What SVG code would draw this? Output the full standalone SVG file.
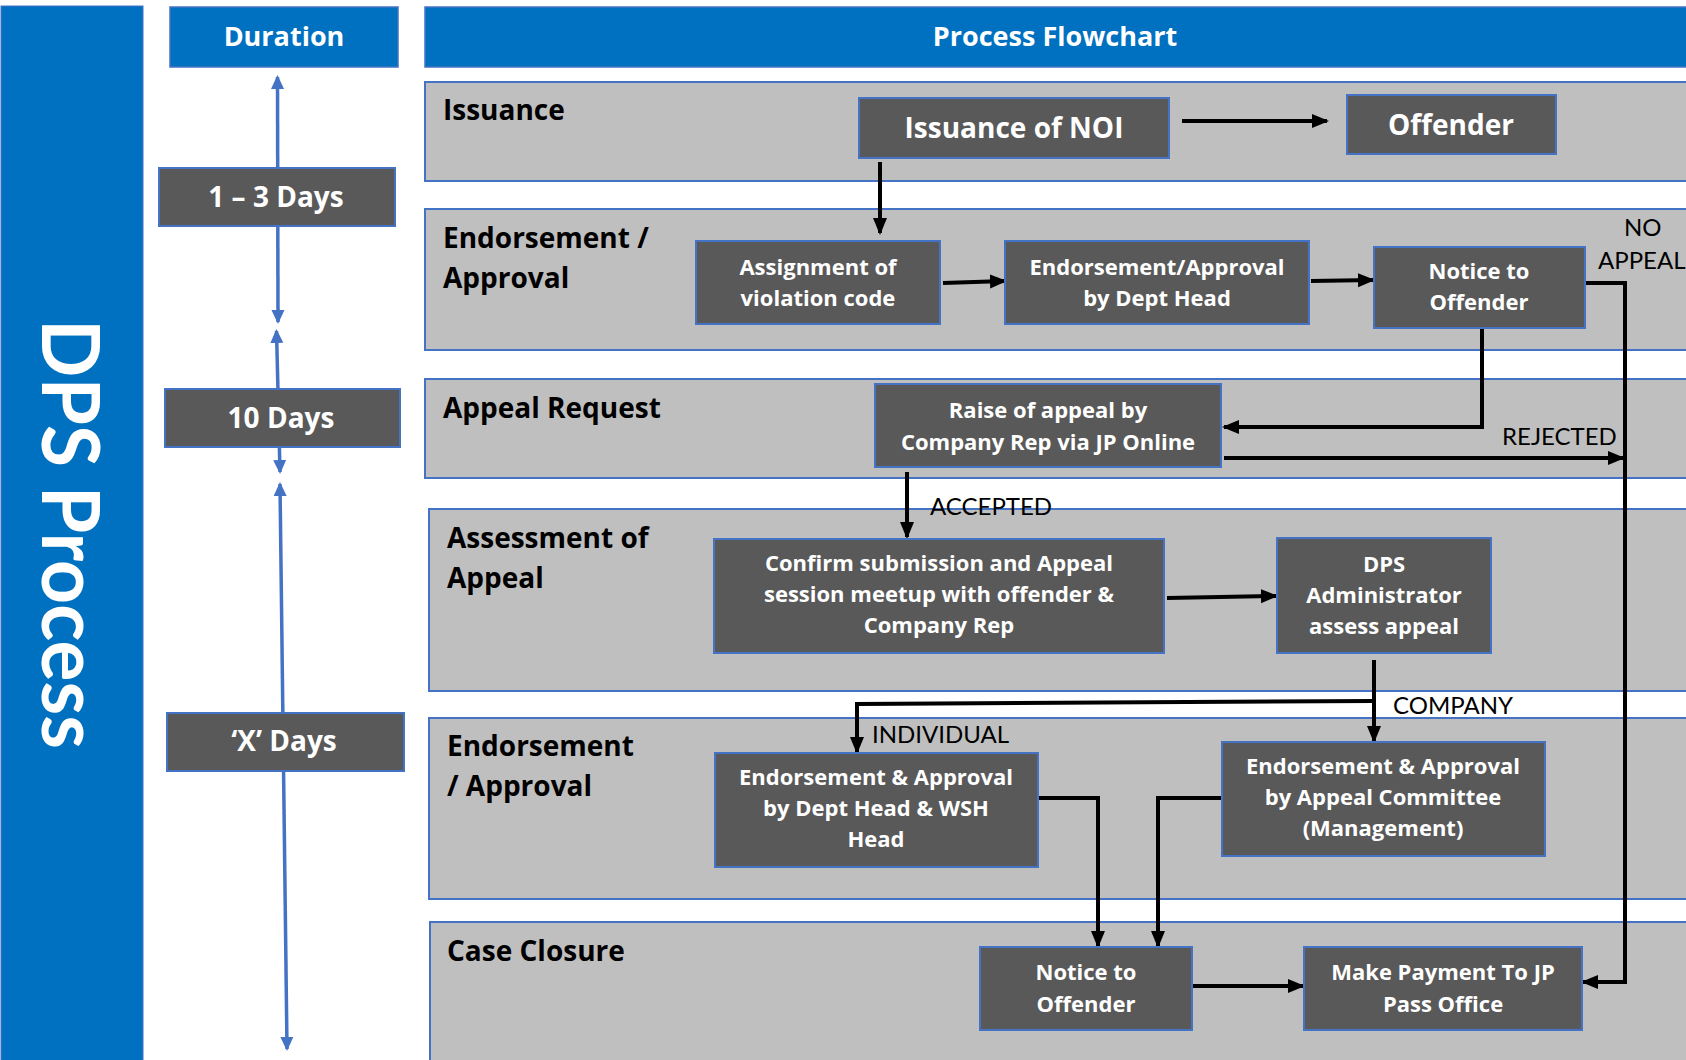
<svg xmlns="http://www.w3.org/2000/svg" width="1686" height="1060" viewBox="0 0 1686 1060">
<defs>
<style>
.lane{fill:#BFBFBF;stroke:#4472C4;stroke-width:2}
.node{fill:#595959;stroke:#4472C4;stroke-width:2}
.hdr{fill:#0070C0;stroke:#4472C4;stroke-width:1.5}
.nt{font-family:"Open Sans",Lato,sans-serif;font-weight:bold;fill:#FFFFFF;font-size:22px;text-anchor:middle}
.big{font-size:28px}
.ht{font-family:"Open Sans",Lato,sans-serif;font-weight:bold;fill:#FFFFFF;font-size:27px;text-anchor:middle}
.dt{font-family:"Open Sans",Lato,sans-serif;font-weight:bold;fill:#FFFFFF;font-size:28px;text-anchor:middle}
.lt{font-family:"Open Sans",Lato,sans-serif;font-weight:bold;fill:#000000;font-size:28px}
.cl{font-family:Lato,"Open Sans",sans-serif;fill:#000000;font-size:24px}
.conn{stroke:#000000;stroke-width:4;fill:none;marker-end:url(#ah)}
.dur{stroke:#4472C4;stroke-width:3.5;fill:none;marker-start:url(#bh);marker-end:url(#bh)}
</style>
<marker id="ah" markerUnits="userSpaceOnUse" markerWidth="17" markerHeight="16" viewBox="0 0 17 16" refX="15" refY="8" orient="auto">
<path d="M0,1 L17,8 L0,15 z" fill="#000000"/>
</marker>
<marker id="bh" markerUnits="userSpaceOnUse" markerWidth="14" markerHeight="14" viewBox="0 0 14 14" refX="12" refY="7" orient="auto-start-reverse">
<path d="M0,0.5 L14,7 L0,13.5 z" fill="#4472C4"/>
</marker>
</defs>

<rect width="1686" height="1060" fill="#FFFFFF"/>

<g id="side-title">
<rect x="1" y="6" width="142" height="1060" fill="#0070C0" stroke="#4472C4" stroke-width="1"/>
<text transform="translate(42,534) rotate(90)" text-anchor="middle" font-family="Lato,'Open Sans',sans-serif" font-weight="bold" font-size="80" fill="#FFFFFF" textLength="430" lengthAdjust="spacingAndGlyphs">DPS Process</text>
</g>

<g id="header-duration">
<rect class="hdr" x="170" y="7" width="228" height="60"/>
<text class="ht" x="284" y="46">Duration</text>
</g>
<g id="header-process">
<rect class="hdr" x="425" y="7" width="1270" height="60"/>
<text class="ht" x="1055" y="46">Process Flowchart</text>
</g>

<g id="lanes">
<g id="lane-issuance">
<rect class="lane" x="425" y="82" width="1270" height="99"/>
<text class="lt" x="443" y="120">Issuance</text>
</g>
<g id="lane-endorsement1">
<rect class="lane" x="425" y="209" width="1270" height="141"/>
<text class="lt" x="443" y="248">Endorsement /</text>
<text class="lt" x="443" y="288">Approval</text>
</g>
<g id="lane-appeal-request">
<rect class="lane" x="425" y="379" width="1270" height="99"/>
<text class="lt" x="443" y="418">Appeal Request</text>
</g>
<g id="lane-assessment">
<rect class="lane" x="429" y="509" width="1266" height="182"/>
<text class="lt" x="447" y="548">Assessment of</text>
<text class="lt" x="447" y="588">Appeal</text>
</g>
<g id="lane-endorsement2">
<rect class="lane" x="429" y="718" width="1266" height="181"/>
<text class="lt" x="447" y="756">Endorsement</text>
<text class="lt" x="447" y="796">/ Approval</text>
</g>
<g id="lane-closure">
<rect class="lane" x="430" y="922" width="1266" height="150"/>
<text class="lt" x="447" y="961">Case Closure</text>
</g>
</g>

<g id="duration-arrows">
<path class="dur" d="M277.5,77 L278,322"/>
<path class="dur" d="M276.5,331 L280,472"/>
<path class="dur" d="M280,484 L287,1049"/>
</g>

<g id="connectors">
<path class="conn" d="M1182,121 H1327"/>
<path class="conn" d="M880,162 V233"/>
<path class="conn" d="M943,283 L1005,281"/>
<path class="conn" d="M1311,281 L1373,280"/>
<path class="conn" d="M1482,328 V427 H1224"/>
<path class="conn" d="M1224,458 H1623"/>
<path class="conn" d="M1585,283 H1625 V982 H1583"/>
<path class="conn" d="M907,472 V537"/>
<path class="conn" d="M1167,598 L1276,596"/>
<path class="conn" d="M1374,660 V741"/>
<path class="conn" d="M1374,701 L857,704 V752"/>
<path class="conn" d="M1038,798 H1098 V946"/>
<path class="conn" d="M1222,798 H1158 V946"/>
<path class="conn" d="M1192,986 H1303"/>
<text class="cl" x="1624" y="236">NO</text>
<text class="cl" x="1598" y="269">APPEAL</text>
<text class="cl" x="1502" y="445">REJECTED</text>
<text class="cl" x="930" y="515">ACCEPTED</text>
<text class="cl" x="1393" y="714">COMPANY</text>
<text class="cl" x="872" y="743">INDIVIDUAL</text>
</g>

<g id="dur-1-3">
<rect class="node" x="159" y="168" width="236" height="58"/>
<text class="dt" x="276" y="207">1 – 3 Days</text>
</g>
<g id="dur-10">
<rect class="node" x="165" y="389" width="235" height="58"/>
<text class="dt" x="281" y="428">10 Days</text>
</g>
<g id="dur-x">
<rect class="node" x="167" y="713" width="237" height="58"/>
<text class="dt" x="284" y="751">‘X’ Days</text>
</g>

<g id="n-noi">
<rect class="node" x="859" y="98" width="310" height="60"/>
<text class="nt big" x="1014" y="138">Issuance of NOI</text>
</g>
<g id="n-offender">
<rect class="node" x="1347" y="95" width="209" height="59"/>
<text class="nt big" x="1451" y="135">Offender</text>
</g>
<g id="n-assign">
<rect class="node" x="696" y="241" width="244" height="83"/>
<text class="nt" x="818" y="275">Assignment of</text>
<text class="nt" x="818" y="306">violation code</text>
</g>
<g id="n-enddept">
<rect class="node" x="1005" y="241" width="304" height="83"/>
<text class="nt" x="1157" y="275">Endorsement/Approval</text>
<text class="nt" x="1157" y="306">by Dept Head</text>
</g>
<g id="n-notice1">
<rect class="node" x="1374" y="247" width="211" height="81"/>
<text class="nt" x="1479" y="279">Notice to</text>
<text class="nt" x="1479" y="310">Offender</text>
</g>
<g id="n-raise">
<rect class="node" x="875" y="384" width="346" height="83"/>
<text class="nt" x="1048" y="418">Raise of appeal by</text>
<text class="nt" x="1048" y="450">Company Rep via JP Online</text>
</g>
<g id="n-confirm">
<rect class="node" x="714" y="539" width="450" height="114"/>
<text class="nt" x="939" y="571">Confirm submission and Appeal</text>
<text class="nt" x="939" y="602">session meetup with offender &amp;</text>
<text class="nt" x="939" y="633">Company Rep</text>
</g>
<g id="n-dps">
<rect class="node" x="1277" y="538" width="214" height="115"/>
<text class="nt" x="1384" y="572">DPS</text>
<text class="nt" x="1384" y="603">Administrator</text>
<text class="nt" x="1384" y="634">assess appeal</text>
</g>
<g id="n-endwsh">
<rect class="node" x="715" y="753" width="323" height="114"/>
<text class="nt" x="876" y="785">Endorsement &amp; Approval</text>
<text class="nt" x="876" y="816">by Dept Head &amp; WSH</text>
<text class="nt" x="876" y="847">Head</text>
</g>
<g id="n-committee">
<rect class="node" x="1222" y="742" width="323" height="114"/>
<text class="nt" x="1383" y="774">Endorsement &amp; Approval</text>
<text class="nt" x="1383" y="805">by Appeal Committee</text>
<text class="nt" x="1383" y="836">(Management)</text>
</g>
<g id="n-notice2">
<rect class="node" x="980" y="947" width="212" height="83"/>
<text class="nt" x="1086" y="980">Notice to</text>
<text class="nt" x="1086" y="1012">Offender</text>
</g>
<g id="n-payment">
<rect class="node" x="1304" y="947" width="278" height="83"/>
<text class="nt" x="1443" y="980">Make Payment To JP</text>
<text class="nt" x="1443" y="1012">Pass Office</text>
</g>
</svg>
